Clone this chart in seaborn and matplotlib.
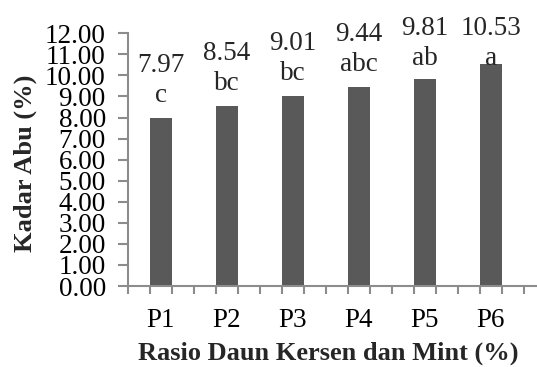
import numpy as np
import pandas as pd
import matplotlib
matplotlib.use("Agg")
import matplotlib.pyplot as plt
import seaborn as sns

# Ash content per treatment with significance letters
treatments = ["P1", "P2", "P3", "P4", "P5", "P6"]
ash_content = [7.97, 8.54, 9.01, 9.44, 9.81, 10.53]
sig_letters = ["c", "bc", "bc", "abc", "ab", "a"]
y_ticks = [0, 1, 2, 3, 4, 5, 6, 7, 8, 9, 10, 11, 12]

df = pd.DataFrame({"Perlakuan": treatments, "Kadar Abu": ash_content})

sns.set_theme(style="white")
plt.rcParams["font.family"] = ["Liberation Serif", "DejaVu Serif"]

W, H, DPI = 537, 367, 100
fig = plt.figure(figsize=(W / DPI, H / DPI), dpi=DPI)
ax = fig.add_axes([128 / W, (H - 286) / H, (W - 128) / W, (286 - 33.3) / H])

BAR_COLOR = "#595959"
AXIS_COLOR = "#8c8c8c"
FS = 19.5

sns.barplot(data=df, x="Perlakuan", y="Kadar Abu", color=BAR_COLOR,
            saturation=1, width=1 / 3, ax=ax, edgecolor="none")

ax.set_ylim(0, 12)
ax.set_xlim(-0.5, 5.5 + 13 / 66)
ax.set_yticks(y_ticks)
ax.set_yticklabels([f"{t:.2f}" for t in y_ticks], fontsize=FS)
ax.set_xticks(range(len(treatments)))
ax.set_xticklabels(treatments, fontsize=FS)
ax.set_xticks(np.arange(-0.5, 5.5 + 1e-6, 1 / 3), minor=True)

ax.tick_params(axis="x", which="major", length=0, pad=16, labelcolor="black")
ax.tick_params(axis="x", which="minor", length=6, width=1.5, color=AXIS_COLOR,
               direction="out", bottom=True)
ax.tick_params(axis="y", length=7, width=1.5, color=AXIS_COLOR,
               direction="out", left=True, pad=9, labelcolor="black")

for side in ("top", "right"):
    ax.spines[side].set_visible(False)
for side in ("left", "bottom"):
    ax.spines[side].set_color(AXIS_COLOR)
    ax.spines[side].set_linewidth(1.5)

ax.set_xlabel("")
ax.set_ylabel("")
fig.text(328 / W, 1 - 360 / H, "Rasio Daun Kersen dan Mint (%)",
         ha="center", va="baseline", fontsize=19, fontweight="bold")
fig.text(25 / W, 1 - 163 / H, "Kadar Abu (%)", rotation=90,
         ha="center", va="center", fontsize=19, fontweight="bold")

# Value and letter labels above each bar, kept inside the plot area
LABEL_CEILING = 9.73
for i, (v, letter) in enumerate(zip(ash_content, sig_letters)):
    ax.annotate(f"{v:.2f}\n{letter}", xy=(i, min(v, LABEL_CEILING)),
                xytext=(0, 7.5), textcoords="offset points",
                ha="center", va="bottom", fontsize=FS, linespacing=1.27,
                annotation_clip=False)

fig.savefig("out.png", dpi=DPI)
